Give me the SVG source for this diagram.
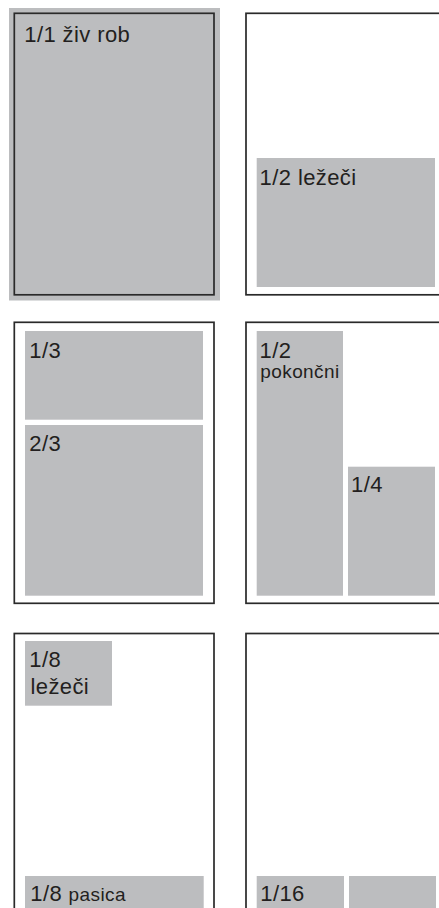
<svg xmlns="http://www.w3.org/2000/svg" width="439" height="908" viewBox="0 0 439 908">
<style>
.page{fill:none;stroke:#2a2a2a;stroke-width:1.7}
.ad{fill:#bcbdbf}
.lbl{font-family:"Liberation Sans",Arial,sans-serif;font-size:22px;fill:#231f20;letter-spacing:0.4px}
.sm{font-size:19px;letter-spacing:0.4px}
</style>
<rect width="439" height="908" fill="#ffffff"/>
<g id="page-1-1">
<rect class="ad" x="9" y="8" width="211" height="292.5"/>
<rect class="page" x="14.3" y="13.3" width="199.7" height="281.5"/>
<text class="lbl" x="24.3" y="41.7">1/1 živ rob</text>
</g>
<g id="page-1-2-lezeci">
<rect class="page" x="246" y="13.3" width="205" height="281.5"/>
<rect class="ad" x="256.7" y="158" width="178.3" height="129"/>
<text class="lbl" x="259.6" y="185">1/2 ležeči</text>
</g>
<g id="page-thirds">
<rect class="page" x="14.3" y="322.3" width="199.7" height="281"/>
<rect class="ad" x="25" y="331" width="178" height="88.7"/>
<text class="lbl" x="29.3" y="357.7">1/3</text>
<rect class="ad" x="25" y="425" width="178" height="170.7"/>
<text class="lbl" x="29.3" y="451">2/3</text>
</g>
<g id="page-halves">
<rect class="page" x="246" y="322.3" width="205" height="281"/>
<rect class="ad" x="256.7" y="331" width="86.3" height="264.7"/>
<text class="lbl" x="259.6" y="357.7">1/2</text>
<text class="lbl sm" x="260.3" y="377.5">pokončni</text>
<rect class="ad" x="348" y="466.7" width="87" height="129"/>
<text class="lbl" x="351" y="491.7">1/4</text>
</g>
<g id="page-eighths">
<rect class="page" x="14.3" y="633.5" width="199.7" height="290"/>
<rect class="ad" x="25" y="641" width="87" height="64.7"/>
<text class="lbl" x="29.3" y="666.7">1/8</text>
<text class="lbl" x="30.5" y="694">ležeči</text>
<rect class="ad" x="25" y="876" width="178.7" height="40"/>
<text class="lbl" x="30.3" y="901">1/8 <tspan class="sm">pasica</tspan></text>
</g>
<g id="page-sixteenths">
<rect class="page" x="246" y="633.5" width="205" height="290"/>
<rect class="ad" x="256.7" y="876" width="87.3" height="40"/>
<text class="lbl" x="260.3" y="901">1/16</text>
<rect class="ad" x="349" y="876" width="87" height="40"/>
</g>
<g id="connectors"/>
</svg>
